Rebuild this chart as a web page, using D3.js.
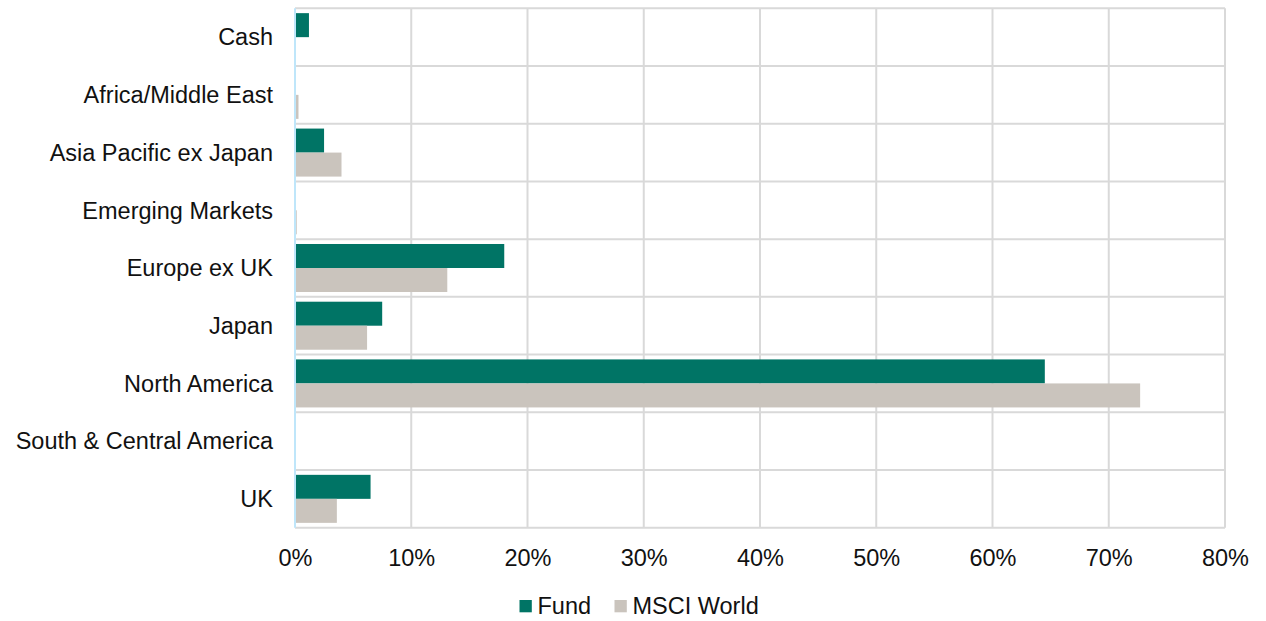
<!DOCTYPE html>
<html>
<head>
<meta charset="utf-8">
<script src="https://cdn.jsdelivr.net/npm/d3@7"></script>
<style>
  html, body { margin: 0; padding: 0; background: #ffffff; }
  svg { display: block; font-family: "Liberation Sans", Arial, sans-serif; }
</style>
</head>
<body>
<svg id="chart" width="1266" height="621"></svg>
<script>
// Regional allocation, percent of portfolio
const categories = ["Cash", "Africa/Middle East", "Asia Pacific ex Japan", "Emerging Markets",
  "Europe ex UK", "Japan", "North America", "South & Central America", "UK"];
const seriesNames = ["Fund", "MSCI World"];
const fundValues = [1.2, 0, 2.5, 0, 18.0, 7.5, 64.5, 0, 6.5];
const msciValues = [0, 0.3, 4.0, 0.15, 13.1, 6.2, 72.7, 0, 3.6];
const xTicks = [0, 10, 20, 30, 40, 50, 60, 70, 80];
const colors = ["#007465", "#cac4bd"];

const svg = d3.select("#chart");
const margin = { left: 295, right: 41, top: 8.3, bottom: 93.3 };
const W = 1266, H = 621;
const fontSize = 23.5;

const x = d3.scaleLinear().domain([0, 80]).range([margin.left, W - margin.right]);
const y = d3.scaleBand().domain(categories)
  .range([margin.top, H - margin.bottom])
  .paddingInner(0.168).paddingOuter(0.084);
const rows = d3.scaleBand().domain(categories)
  .range([margin.top, H - margin.bottom]).padding(0);
const ySub = d3.scaleBand().domain(seriesNames).range([0, y.bandwidth()]);

// Grid: vertical lines at each tick, horizontal lines between categories
const grid = svg.append("g").attr("stroke", "#d9d9d9").attr("stroke-width", 2);
grid.selectAll("line.v").data(xTicks.slice(1)).join("line")
  .attr("x1", d => x(d)).attr("x2", d => x(d))
  .attr("y1", margin.top).attr("y2", H - margin.bottom);
const bounds = categories.map(c => rows(c)).concat([H - margin.bottom]);
grid.selectAll("line.h").data(bounds).join("line")
  .attr("x1", x(0)).attr("x2", x(80))
  .attr("y1", d => d).attr("y2", d => d);

// Bars
const data = categories.map((c, i) => ({ cat: c, vals: [fundValues[i], msciValues[i]] }));
const groups = svg.append("g").selectAll("g").data(data).join("g")
  .attr("transform", d => `translate(0,${y(d.cat)})`);
groups.selectAll("rect").data(d => d.vals.map((v, j) => ({ v, s: seriesNames[j], j })))
  .join("rect")
  .attr("x", x(0))
  .attr("y", d => ySub(d.s))
  .attr("width", d => x(d.v) - x(0))
  .attr("height", ySub.bandwidth())
  .attr("fill", d => colors[d.j]);

// Category axis line
svg.append("line")
  .attr("x1", x(0)).attr("x2", x(0))
  .attr("y1", margin.top).attr("y2", H - margin.bottom)
  .attr("stroke", "#bfe6fa").attr("stroke-width", 2);

// Category labels
svg.append("g").selectAll("text").data(categories).join("text")
  .attr("x", 273)
  .attr("y", d => rows(d) + rows.bandwidth() / 2)
  .attr("dy", "0.35em")
  .attr("text-anchor", "end")
  .attr("font-size", fontSize)
  .attr("fill", "#111")
  .text(d => d);

// Value axis labels
const xAxis = d3.axisBottom(x).tickValues(xTicks).tickFormat(d => d + "%").tickSize(0).tickPadding(0);
const gx = svg.append("g").attr("transform", `translate(0,${H - margin.bottom})`).call(xAxis);
gx.select(".domain").remove();
gx.selectAll("text").attr("font-size", fontSize).attr("fill", "#111")
  .attr("font-family", "Liberation Sans, Arial, sans-serif")
  .attr("dy", "0.35em").attr("y", 30);

// Legend
const legend = svg.append("g").attr("transform", "translate(0,606)");
const legendX = [519.5, 614.5];
seriesNames.forEach((name, i) => {
  legend.append("rect").attr("x", legendX[i]).attr("y", -6).attr("width", 12.3).attr("height", 12.3)
    .attr("fill", colors[i]);
  legend.append("text").attr("x", legendX[i] + 18).attr("y", 0).attr("dy", "0.35em")
    .attr("font-size", fontSize).attr("fill", "#111").text(name);
});
</script>
</body>
</html>
